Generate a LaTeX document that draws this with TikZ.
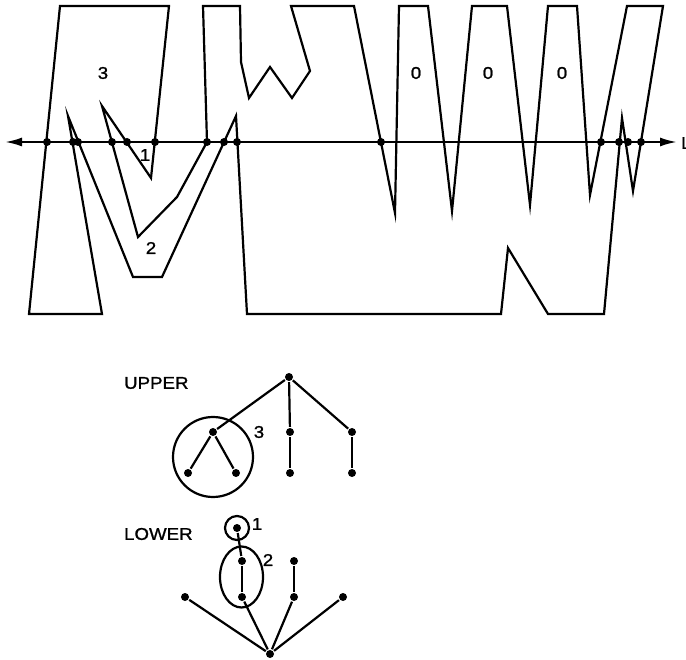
\documentclass[tikz,border=0pt]{standalone}
\usepackage{fontspec}
\setmainfont{Liberation Sans}
\newfontfamily\lettering[FakeStretch=1.1,FakeBold=1.2]{Liberation Sans}
\usetikzlibrary{positioning,arrows.meta,shapes.geometric}

\begin{document}
\begin{tikzpicture}[x=1pt, y=-1pt, >={Latex[length=17pt,width=9pt]}, line width=2.2pt, line join=miter,
  vtx/.style={circle, fill, inner sep=0pt, minimum size=8pt},
  lbl/.style={inner sep=0pt, font=\lettering\fontsize{17}{19}\selectfont}]
  \useasboundingbox (0,0) rectangle (686,660);

  % the region cut by the line
  \draw (60,6) -- (169,6) -- (151,178) -- (102,106) -- (138,237) -- (177,197) -- (207,142) -- (203,6)
    -- (240,6) -- (241,62) -- (249,98) -- (270,67) -- (292,98) -- (310,71) -- (291,6)
    -- (354,6) -- (395,213) -- (399,6) -- (428,6) -- (452,211) -- (472,6) -- (507,6) -- (530,205)
    -- (548,6) -- (577,6) -- (590,195) -- (627,6) -- (663,6) -- (633,191) -- (622,118)
    -- (604,314) -- (548,314) -- (508,248) -- (501,314) -- (247,314) -- (236,116) -- (162,277)
    -- (133,277) -- (68,116) -- (102,314) -- (29,314) -- cycle;

  \node[lbl] (r3) at (103,73) {3};
  \node[lbl] (r1) at (145,155) {1};
  \node[lbl] (r2) at (151,248) {2};
  \node[lbl] (z1) at (416,73) {0};
  \node[lbl] (z2) at (488,73) {0};
  \node[lbl] (z3) at (562,73) {0};

  % line l
  \coordinate (lstart) at (5,142);
  \coordinate (lend) at (677,142);
  \draw[<->] (lstart) -- (lend);
  \node[lbl, anchor=west] (lname) at (680,143) {L};
  \foreach \x in {47,73,78,112,127,155,207,224,237,381,601,619,628,641}
    \node[vtx] at (\x,142) {};

  % upper tree
  \node[lbl, anchor=west] (upper) at (123,383) {UPPER};
  \node[vtx] (uroot) at (289,377) {};
  \node[vtx] (ua) at (213,432) {};
  \node[vtx] (ua1) at (188,473) {};
  \node[vtx] (ua2) at (236,473) {};
  \node[vtx] (ub) at (290,432) {};
  \node[vtx] (ub1) at (290,473) {};
  \node[vtx] (uc) at (352,432) {};
  \node[vtx] (uc1) at (352,473) {};
  \node[draw, circle, minimum size=80pt] (ring3) at (213,457) {};
  \node[lbl] (t3) at (259,432) {3};

  \draw (uroot) -- (ua);
  \draw (uroot) -- (ub);
  \draw (uroot) -- (uc);
  \draw (ua) -- (ua1);
  \draw (ua) -- (ua2);
  \draw (ub) -- (ub1);
  \draw (uc) -- (uc1);

  % lower tree
  \node[lbl, anchor=west] (lower) at (123,534) {LOWER};
  \node[vtx] (ltop) at (237,528) {};
  \node[draw, circle, minimum size=24pt] (ring1) at (237,528) {};
  \node[lbl] (t1) at (257,524) {1};
  \node[vtx] (la) at (242,561) {};
  \node[vtx] (la1) at (242,597) {};
  \node[draw, ellipse, minimum width=43pt, minimum height=61pt] (ring2) at (241.5,577) {};
  \node[lbl] (t2) at (268,560) {2};
  \node[vtx] (lb) at (294,561) {};
  \node[vtx] (lb1) at (294,597) {};
  \node[vtx] (lleft) at (185,597) {};
  \node[vtx] (lright) at (343,597) {};
  \node[vtx] (lroot) at (270,654) {};

  \draw (ltop) -- (la);
  \draw (la) -- (la1);
  \draw (lb) -- (lb1);
  \draw (lroot) -- (lleft);
  \draw (lroot) -- (la1);
  \draw (lroot) -- (lb1);
  \draw (lroot) -- (lright);
\end{tikzpicture}
\end{document}
